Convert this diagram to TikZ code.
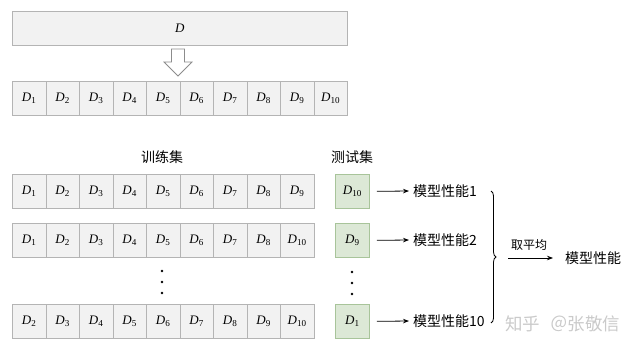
\documentclass[tikz,border=0pt]{standalone}
\usepackage{fontspec}
\setmainfont{Liberation Serif}
\newfontfamily\cjk{Noto Sans CJK SC}
\usetikzlibrary{arrows.meta,decorations.pathreplacing}
\definecolor{cellfill}{HTML}{F2F2F2}
\definecolor{celldraw}{HTML}{B4B4B4}
\definecolor{testfill}{HTML}{DCE8D6}
\definecolor{testdraw}{HTML}{A8C49A}
\definecolor{arrowgray}{HTML}{8C8C8C}
\definecolor{wmgray}{HTML}{CACACA}
\newcommand\Dsub[1]{\textit{D}\kern0.3pt\textsubscript{#1}}
\begin{document}
\begin{tikzpicture}[x=1pt,y=-1pt,
  cell/.style={draw=celldraw, fill=cellfill, line width=0.8pt, minimum width=33.5pt,
    minimum height=34pt, inner sep=0pt, anchor=north west, font=\fontsize{13}{15}\selectfont},
  testcell/.style={cell, draw=testdraw, fill=testfill, minimum width=34pt},
  cjklabel/.style={font=\cjk\fontsize{14}{16}\selectfont, inner sep=3pt},
  arr/.style={-{Stealth[length=6pt,width=4.5pt]}, line width=0.8pt, black},
  dot/.style={circle, fill=black, inner sep=0pt, minimum size=2.8pt}]
\useasboundingbox (0,0) rectangle (640,350);
% whole data set
\node[cell, minimum width=335pt] (whole) at (12,11) {\textit{D}};
% hollow arrow
\draw[arrowgray, line width=0.8pt, fill=white]
  (171.5,49) -- (184.5,49) -- (184.5,62) -- (192,62) -- (178,76) -- (164,62) -- (171.5,62) -- cycle;
% split row
\foreach \i in {1,...,10}
  \node[cell] (a\i) at ({12+(\i-1)*33.5},81) {\Dsub{\i}};
% training rows
\node[cjklabel] (trainlbl) at (162,157) {训练集};
\node[cjklabel] (testlbl) at (352,157) {测试集};
\foreach \i in {1,...,9}
  \node[cell] (r1c\i) at ({12+(\i-1)*33.5},174) {\Dsub{\i}};
\foreach \i/\l in {1/1,2/2,3/3,4/4,5/5,6/6,7/7,8/8,9/10}
  \node[cell] (r2c\i) at ({12+(\i-1)*33.5},223) {\Dsub{\l}};
\foreach \i/\l in {1/2,2/3,3/4,4/5,5/6,6/7,7/8,8/9,9/10}
  \node[cell] (r3c\i) at ({12+(\i-1)*33.5},304) {\Dsub{\l}};
% test cells
\node[testcell] (t1) at (335,174) {\Dsub{10}};
\node[testcell] (t2) at (335,223) {\Dsub{9}};
\node[testcell] (t3) at (335,304) {\Dsub{1}};
% dots
\foreach \y [count=\k] in {271,282,293} {
  \node[dot] (ld\k) at (162,\y) {};
  \node[dot] (rd\k) at (352,\y+1) {};
}
% performance labels
\node[cjklabel, anchor=west] (m1) at (410,191) {模型性能1};
\node[cjklabel, anchor=west] (m2) at (410,240) {模型性能2};
\node[cjklabel, anchor=west] (m3) at (410,321) {模型性能10};
\draw[arr, shorten <=7pt, shorten >=1pt] (t1.east) -- (m1.west);
\draw[arr, shorten <=7pt, shorten >=1pt] (t2.east) -- (m2.west);
\draw[arr, shorten <=7pt, shorten >=1pt] (t3.east) -- (m3.west);
% brace
\coordinate (b1) at (491,191);
\coordinate (b2) at (491,323);
\draw[line width=0.8pt, decorate, decoration={brace, amplitude=5pt}] (b1) -- (b2);
% average
\coordinate (avgstart) at (508,258);
\node[cjklabel, anchor=west] (final) at (562,258) {模型性能};
\draw[arr, shorten >=9pt] (avgstart) -- (final.west);
\node[font=\cjk\fontsize{12}{14}\selectfont] (avglbl) at (529,245) {取平均};
% watermark
\node[font=\cjk\fontsize{17.5}{19}\selectfont, text=wmgray, anchor=west, inner sep=0pt] (wm) at (505,324) {知乎\hspace{10pt}＠张敬信};
\end{tikzpicture}
\end{document}
